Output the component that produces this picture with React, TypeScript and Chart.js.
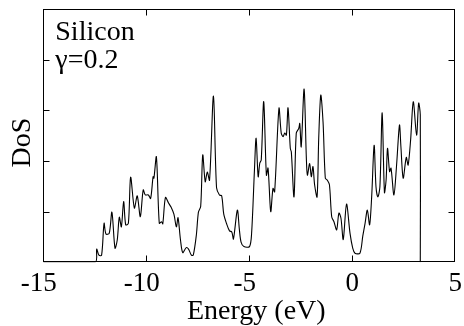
import React, { useEffect, useRef } from "react";
import { Chart, registerables } from "chart.js";

Chart.register(...registerables);

const energy: number[] = [
  -15, -12.49, -12.41, -12.3, -12.17, -12.05, -11.96, -11.8, -11.67, -11.52, -11.41, -11.31, -11.21, -11.1,
  -11.0, -10.87, -10.76, -10.58, -10.44, -10.29, -10.15, -10.05, -9.9, -9.79, -9.67, -9.63, -9.51, -9.37,
  -9.26, -9.2, -9.07, -8.92, -8.8, -8.66, -8.54, -8.46, -8.34, -8.23, -8.06, -7.95, -7.81, -7.72, -7.57,
  -7.47, -7.36, -7.26, -7.14, -7.04, -6.93, -6.74, -6.59, -6.45, -6.34, -6.24, -6.11, -5.96, -5.85, -5.77,
  -5.58, -5.48, -5.4, -5.26, -4.99, -4.89, -4.75, -4.67, -4.57, -4.49, -4.42, -4.3, -4.17, -4.09, -3.96,
  -3.85, -3.77, -3.56, -3.45, -3.36, -3.28, -3.2, -3.12, -3.01, -2.96, -2.83, -2.72, -2.6, -2.55, -2.48,
  -2.34, -2.23, -2.18, -2.07, -1.99, -1.91, -1.83, -1.71, -1.63, -1.53, -1.42, -1.31, -1.21, -1.11, -1.0,
  -0.89, -0.76, -0.65, -0.55, -0.44, -0.28, -0.11, 0.02, 0.13, 0.37, 0.51, 0.62, 0.73, 0.84, 0.94, 1.06,
  1.15, 1.24, 1.34, 1.45, 1.56, 1.64, 1.71, 1.81, 1.88, 2.02, 2.15, 2.29, 2.36, 2.47, 2.62, 2.71, 2.83,
  2.96, 3.12, 3.22, 3.3, 3.3,
];

const dos: number[] = [
  0, 0, 0.26, 0.14, 0.14, 0.77, 0.56, 0.57, 0.99, 0.28, 0.44, 0.89, 0.7, 1.2,
  0.74, 0.77, 1.68, 1.07, 1.31, 0.9, 1.43, 1.33, 1.33, 1.26, 1.69, 1.66, 2.08, 0.77,
  0.8, 0.76, 1.28, 1.17, 1.09, 0.95, 0.7, 0.88, 0.44, 0.19, 0.29, 0.26, 0.14, 0.14, 0.54,
  0.99, 1.1, 2.12, 1.59, 1.78, 1.62, 3.28, 1.47, 1.33, 1.31, 0.95, 0.77, 0.62, 0.6, 0.46,
  1.03, 0.64, 0.4, 0.31, 0.31, 0.56, 1.82, 2.45, 1.69, 1.96, 2.02, 3.17, 1.72, 1.86, 1.0,
  1.46, 1.39, 3.04, 2.55, 2.48, 2.55, 2.51, 3.05, 2.25, 2.18, 1.29, 2.55, 2.64, 2.74, 2.28,
  3.42, 2.05, 1.72, 1.95, 1.69, 1.89, 1.53, 1.29, 2.45, 3.3, 2.77, 1.66, 1.62, 1.53, 0.9,
  0.8, 0.64, 0.97, 0.87, 0.45, 1.15, 0.57, 0.28, 0.18, 0.18, 0.52, 0.77, 1.03, 0.74, 1.29, 2.31,
  1.49, 1.29, 1.49, 2.95, 1.38, 1.62, 2.25, 1.79, 1.86, 1.33, 1.92, 2.71, 2.28, 1.66, 2.07, 1.92, 2.41,
  3.17, 2.51, 3.14, 2.91, 0,
];

const xMin = -15;
const xMax = 5;
const xStep = 5;
const yMin = 0;
const yMax = 5;
const yStep = 1;
const annotationLines: string[] = ["Silicon", "\u03b3=0.2"];
const xTitle = "Energy (eV)";
const yTitle = "DoS";

const FONT = '"Liberation Serif", "Times New Roman", serif';

const framePlugin = {
  id: "frame",
  afterDraw(chart: any) {
    const { ctx, chartArea: a, scales } = chart;
    ctx.save();
    ctx.strokeStyle = "#000";
    ctx.lineWidth = 1;
    const l = Math.round(a.left) + 0.5;
    const r = Math.round(a.right) - 0.5;
    const t = Math.round(a.top) + 0.5;
    const b = Math.round(a.bottom) - 0.5;
    ctx.strokeRect(l, t, r - l, b - t);
    const L = 6;
    ctx.beginPath();
    scales.x.ticks.forEach((tk: any) => {
      const px = Math.round(scales.x.getPixelForValue(tk.value)) + 0.5;
      if (px <= l + 2 || px >= r - 2) return;
      ctx.moveTo(px, b);
      ctx.lineTo(px, b - L);
      ctx.moveTo(px, t);
      ctx.lineTo(px, t + L);
    });
    scales.y.ticks.forEach((tk: any) => {
      const py = Math.round(scales.y.getPixelForValue(tk.value)) + 0.5;
      if (py <= t + 2 || py >= b - 2) return;
      ctx.moveTo(l, py);
      ctx.lineTo(l + L, py);
      ctx.moveTo(r, py);
      ctx.lineTo(r - L, py);
    });
    ctx.stroke();
    ctx.fillStyle = "#000";
    ctx.font = `28px ${FONT}`;
    ctx.textBaseline = "alphabetic";
    ctx.textAlign = "left";
    annotationLines.forEach((s, i) => {
      ctx.fillText(s, a.left + 12, a.top + 31 + i * 28);
    });
    ctx.restore();
  },
};

export default function App() {
  const ref = useRef<HTMLCanvasElement | null>(null);
  useEffect(() => {
    if (!ref.current) return;
    const points = energy.map((e, i) => ({ x: e, y: dos[i] }));
    const chart = new Chart(ref.current, {
      type: "line",
      data: {
        datasets: [
          {
            data: points,
            borderColor: "#000",
            borderWidth: 1.1,
            pointRadius: 0,
            tension: 0.3,
            fill: false,
          },
        ],
      },
      options: {
        responsive: false,
        animation: false,
        layout: { padding: { top: 9, right: 8.7, left: 0, bottom: 0 } },
        plugins: { legend: { display: false }, tooltip: { enabled: false } },
        scales: {
          x: {
            type: "linear",
            min: xMin,
            max: xMax,
            grid: { display: false, drawTicks: false },
            border: { display: false },
            ticks: {
              stepSize: xStep,
              color: "#000",
              font: { family: FONT, size: 27, lineHeight: 1.2 },
              padding: 5,
              maxRotation: 0,
              autoSkip: false,
              // keep the digits centred on the tick, with the minus sign hanging to the left
              callback: (v: any) => (Number(v) < 0 ? `${v} \u200a` : `${v}`),
            },
            title: {
              display: true,
              text: "\u2002" + xTitle,
              color: "#000",
              font: { family: FONT, size: 28, lineHeight: 1 },
              padding: { top: 0, bottom: 0 },
            },
            afterFit: (s: any) => {
              s.height = 63.7;
              s.paddingLeft = 0;
              s.paddingRight = 0;
            },
          },
          y: {
            type: "linear",
            min: yMin,
            max: yMax,
            grid: { display: false, drawTicks: false },
            border: { display: false },
            ticks: { stepSize: yStep, display: false },
            title: {
              display: true,
              text: yTitle + "\u2002",
              color: "#000",
              font: { family: FONT, size: 28, lineHeight: 1.2 },
              padding: { top: 5.5, bottom: 0 },
            },
            afterFit: (s: any) => {
              s.width = 43.3;
            },
          },
        },
      },
      plugins: [framePlugin],
    });
    return () => chart.destroy();
  }, []);
  return (
    <div style={{ position: "fixed", left: 0, top: 0, width: 464, height: 326, background: "#fff" }}>
      <canvas ref={ref} width={464} height={326} />
    </div>
  );
}
